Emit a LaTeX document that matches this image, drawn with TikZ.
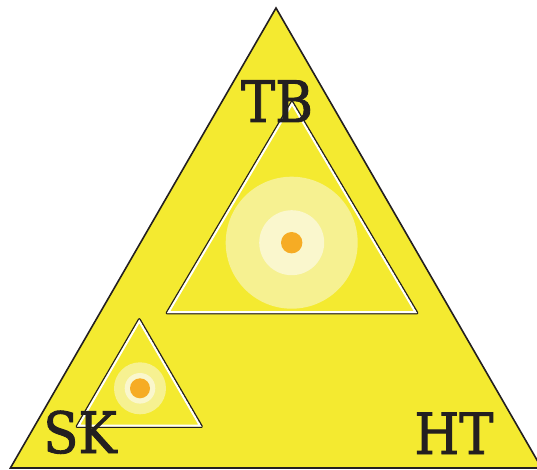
\documentclass[tikz,border=0pt]{standalone}
\usepackage{fontspec}
\newfontfamily\slabfont[FakeBold=1.6]{DejaVu Serif Condensed}

\definecolor{signyellow}{RGB}{244,234,48}
\definecolor{inkblack}{RGB}{35,31,32}
\definecolor{dotorange}{RGB}{246,172,36}
\definecolor{glowouter}{RGB}{246,241,145}
\definecolor{glowinner}{RGB}{250,247,205}

\newcommand{\ringedtri}[3]{%
  \draw[inkblack, line width=2.8pt, line join=round] (#1) -- (#2) -- (#3) -- cycle;
  \begin{scope}
    \clip (#1) -- (#2) -- (#3) -- cycle;
    \fill[signyellow] (#1) -- (#2) -- (#3) -- cycle;
    \draw[white, line width=3.8pt, line join=miter] (#1) -- (#2) -- (#3) -- cycle;
  \end{scope}}

\begin{document}
\begin{tikzpicture}[x=1pt,y=-1pt,
  corner label/.style={font=\slabfont\fontsize{57}{57}\selectfont,
                       text=inkblack, inner sep=0pt, anchor=base}]
\useasboundingbox (0,0) rectangle (537,470);

\coordinate (apex) at (276,8);
\coordinate (left) at (10.4,468);
\coordinate (right) at (541.6,468);
\fill[signyellow] (apex) -- (left) -- (right) -- cycle;
\draw[inkblack, line width=1.6pt, line join=miter] (apex) -- (left) -- (right) -- cycle;

\coordinate (tbtop) at (292,102);
\coordinate (tbleft) at (167,313);
\coordinate (tbright) at (417,313);
\ringedtri{tbtop}{tbleft}{tbright}

\coordinate (sktop) at (139.3,319.5);
\coordinate (skleft) at (77,426.5);
\coordinate (skright) at (201.5,426.5);
\ringedtri{sktop}{skleft}{skright}

\coordinate (tbcore) at (291.7,242.7);
\fill[glowouter] (tbcore) circle (66);
\fill[glowinner] (tbcore) circle (32.5);
\fill[dotorange] (tbcore) circle (10.7);

\coordinate (skcore) at (140,388.3);
\fill[glowouter] (skcore) circle (26);
\fill[glowinner] (skcore) circle (15.3);
\fill[dotorange] (skcore) circle (10);

\node[corner label] (tb) at (277,122) {TB};
\node[corner label] (sk) at (80,453) {SK};
\node[corner label] (ht) at (454,454) {HT};
\end{tikzpicture}
\end{document}
